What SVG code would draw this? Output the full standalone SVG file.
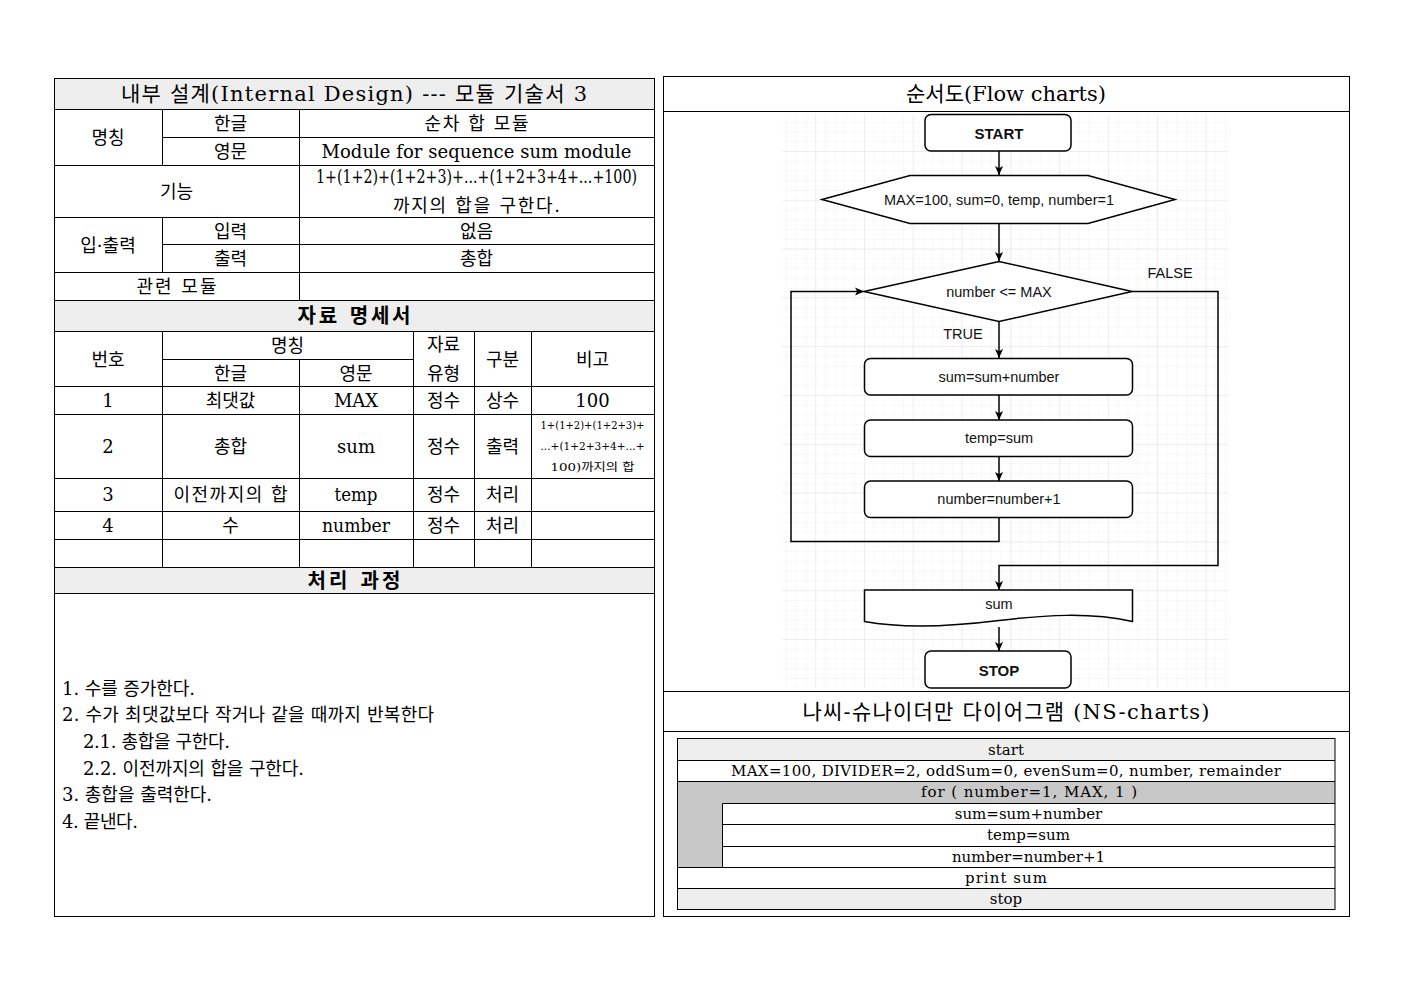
<svg xmlns="http://www.w3.org/2000/svg" width="1403" height="992" viewBox="0 0 1403 992">
<style>
.ln{stroke:#000;stroke-width:1;fill:none}
.t{font-family:"DejaVu Serif","Noto Sans CJK KR",serif;font-size:18px;fill:#000;text-anchor:middle;dominant-baseline:central}
.tl{font-family:"DejaVu Serif","Noto Sans CJK KR",serif;font-size:18px;fill:#000;text-anchor:start;dominant-baseline:central}
.h1{font-family:"DejaVu Serif","Noto Sans CJK KR",serif;font-size:21px;fill:#000;text-anchor:middle;dominant-baseline:central}
.h2{font-family:"DejaVu Serif","Noto Sans CJK KR",serif;font-size:20px;font-weight:bold;fill:#000;text-anchor:middle;dominant-baseline:central}
.sm{font-family:"DejaVu Serif","Noto Sans CJK KR",serif;font-size:11px;fill:#000;text-anchor:middle;dominant-baseline:central}
.ns{font-family:"DejaVu Serif","Noto Sans CJK KR",serif;font-size:15px;fill:#000;text-anchor:middle;dominant-baseline:central}
.fc{fill:#fff;stroke:#000;stroke-width:1.5}
.ft{font-family:"Liberation Sans",Arial,sans-serif;font-size:14.5px;fill:#111;text-anchor:middle;dominant-baseline:central}
.fb{font-family:"Liberation Sans",Arial,sans-serif;font-size:15px;font-weight:bold;fill:#111;text-anchor:middle;dominant-baseline:central}
.cn{stroke:#000;stroke-width:1.5;fill:none;marker-end:url(#arr)}
</style>
<defs>
<marker id="arr" viewBox="0 0 10 10" refX="10" refY="5" markerWidth="9" markerHeight="9" markerUnits="userSpaceOnUse" orient="auto">
<path d="M0,0.5 L10,5 L0,9.5 L2.5,5 Z" fill="#000"/>
</marker>
<pattern id="gminor" x="766.4" y="151" width="9.76" height="9.76" patternUnits="userSpaceOnUse">
<path d="M9.76,0 L0,0 L0,9.76" fill="none" stroke="#f2f2f2" stroke-width="1"/>
</pattern>
<pattern id="gmajor" x="766.4" y="151" width="48.8" height="48.8" patternUnits="userSpaceOnUse">
<path d="M48.8,0 L0,0 L0,48.8" fill="none" stroke="#e3e3e3" stroke-width="1"/>
</pattern>
</defs>
<rect width="1403" height="992" fill="#fff"/>

<!-- LEFT PANEL -->
<g id="left-panel">
<rect x="54.5" y="78.5" width="600" height="30.5" fill="#eeeeee"/>
<rect x="54.5" y="300.5" width="600" height="31" fill="#eeeeee"/>
<rect x="54.5" y="567.5" width="600" height="26" fill="#eeeeee"/>
<rect x="54.5" y="78.5" width="600" height="838" class="ln"/>
<path class="ln" d="M54.5,109.5H654.5 M162.5,137.5H654.5 M54.5,165.5H654.5 M54.5,217.5H654.5 M162.5,244.5H654.5 M54.5,272.5H654.5 M54.5,300.5H654.5 M54.5,331.5H654.5 M162.5,359.5H413.5 M54.5,386.5H654.5 M54.5,414.5H654.5 M54.5,478.5H654.5 M54.5,511.5H654.5 M54.5,539.5H654.5 M54.5,567.5H654.5 M54.5,593.5H654.5"/>
<path class="ln" d="M162.5,109.5V165.5 M162.5,217.5V272.5 M299.5,109.5V300.5 M162.5,331.5V567.5 M299.5,359.5V567.5 M413.5,331.5V567.5 M474.5,331.5V567.5 M531.5,331.5V567.5"/>
</g>
<g id="left-title"><text class="h1" x="354" y="94" textLength="466" lengthAdjust="spacing">내부 설계(Internal Design) --- 모듈 기술서 3</text></g>
<g id="module-info">
<text class="t" x="108" y="137">명칭</text>
<text class="t" x="230.5" y="123">한글</text>
<text class="t" x="230.5" y="151">영문</text>
<text class="t" x="476.5" y="123" textLength="104" lengthAdjust="spacing">순차 합 모듈</text>
<text class="t" x="476.5" y="151" textLength="310" lengthAdjust="spacing">Module for sequence sum module</text>
<text class="t" x="176.5" y="191">기능</text>
<text class="t" x="476.5" y="176" font-size="16" textLength="321" lengthAdjust="spacingAndGlyphs">1+(1+2)+(1+2+3)+...+(1+2+3+4+...+100)</text>
<text class="t" x="476.5" y="205" textLength="167" lengthAdjust="spacing">까지의 합을 구한다.</text>
<text class="t" x="108" y="245">입·출력</text>
<text class="t" x="230.5" y="231">입력</text>
<text class="t" x="230.5" y="258.5">출력</text>
<text class="t" x="476.5" y="231">없음</text>
<text class="t" x="476.5" y="258.5">총합</text>
<text class="t" x="176.5" y="286" textLength="80" lengthAdjust="spacing">관련 모듈</text>
</g>
<g id="data-spec">
<text class="h2" x="354" y="316" textLength="113" lengthAdjust="spacing">자료 명세서</text>
<text class="t" x="108" y="359">번호</text>
<text class="t" x="287.5" y="345">명칭</text>
<text class="t" x="230.5" y="373">한글</text>
<text class="t" x="356" y="373">영문</text>
<text class="t" x="443.5" y="344">자료</text>
<text class="t" x="443.5" y="373">유형</text>
<text class="t" x="502.5" y="359">구분</text>
<text class="t" x="592.5" y="359">비고</text>
<text class="t" x="108" y="400.5">1</text>
<text class="t" x="230.5" y="400.5">최댓값</text>
<text class="t" x="356" y="400.5">MAX</text>
<text class="t" x="443.5" y="400.5">정수</text>
<text class="t" x="502.5" y="400.5">상수</text>
<text class="t" x="592.5" y="400.5">100</text>
<text class="t" x="108" y="446">2</text>
<text class="t" x="230.5" y="446">총합</text>
<text class="t" x="356" y="446">sum</text>
<text class="t" x="443.5" y="446">정수</text>
<text class="t" x="502.5" y="446">출력</text>
<text class="sm" x="592.5" y="425" textLength="104" lengthAdjust="spacingAndGlyphs">1+(1+2)+(1+2+3)+</text>
<text class="sm" x="592.5" y="446" textLength="104" lengthAdjust="spacingAndGlyphs">...+(1+2+3+4+...+</text>
<text class="sm" x="592.5" y="467" textLength="84" lengthAdjust="spacingAndGlyphs">100)까지의 합</text>
<text class="t" x="108" y="494.5">3</text>
<text class="t" x="230.5" y="494.5" textLength="114" lengthAdjust="spacing">이전까지의 합</text>
<text class="t" x="356" y="494.5" textLength="43" lengthAdjust="spacingAndGlyphs">temp</text>
<text class="t" x="443.5" y="494.5">정수</text>
<text class="t" x="502.5" y="494.5">처리</text>
<text class="t" x="108" y="525">4</text>
<text class="t" x="230.5" y="525">수</text>
<text class="t" x="356" y="525" textLength="68" lengthAdjust="spacingAndGlyphs">number</text>
<text class="t" x="443.5" y="525">정수</text>
<text class="t" x="502.5" y="525">처리</text>
</g>
<g id="process">
<text class="h2" x="354" y="580.5" textLength="93" lengthAdjust="spacing">처리 과정</text>
<text class="tl" x="62" y="688" textLength="133" lengthAdjust="spacing">1. 수를 증가한다.</text>
<text class="tl" x="62" y="714" textLength="372" lengthAdjust="spacing">2. 수가 최댓값보다 작거나 같을 때까지 반복한다</text>
<text class="tl" x="83" y="741" textLength="147" lengthAdjust="spacing">2.1. 총합을 구한다.</text>
<text class="tl" x="83" y="768" textLength="221" lengthAdjust="spacing">2.2. 이전까지의 합을 구한다.</text>
<text class="tl" x="62" y="794" textLength="150" lengthAdjust="spacing">3. 총합을 출력한다.</text>
<text class="tl" x="62" y="821" textLength="76" lengthAdjust="spacing">4. 끝낸다.</text>
</g>

<!-- RIGHT PANEL -->
<g id="right-panel">
<rect x="663.5" y="76.5" width="686" height="840" class="ln"/>
<path class="ln" d="M663.5,111.5H1349.5 M663.5,691.5H1349.5 M663.5,731.5H1349.5"/>
<text class="h1" x="1006" y="94">순서도(Flow charts)</text>
<text class="h1" x="1006" y="712" textLength="407" lengthAdjust="spacing">나씨-슈나이더만 다이어그램 (NS-charts)</text>
<rect x="782" y="115" width="446" height="573" fill="url(#gminor)"/>
<rect x="782" y="115" width="446" height="573" fill="url(#gmajor)"/>
</g>

<g id="connectors">
<path class="cn" d="M999,151 V175"/>
<path class="cn" d="M999,224 V261"/>
<path class="cn" d="M999,322 V358"/>
<path class="cn" d="M999,395 V420"/>
<path class="cn" d="M999,457 V481"/>
<path class="cn" d="M999,517 V541.5 H791 V291.5 H864"/>
<path class="cn" d="M1132,291.5 H1218 V565.5 H999 V590"/>
<path class="cn" d="M999,627 V651"/>
<text class="ft" x="1170" y="273">FALSE</text>
<text class="ft" x="963" y="334">TRUE</text>
</g>

<g id="fc-start"><rect class="fc" x="925" y="114.5" width="146" height="36.5" rx="6"/><text class="fb" x="999" y="133">START</text></g>
<g id="fc-init"><polygon class="fc" points="822,199.5 910,175.5 1088,175.5 1175,199.5 1088,223.5 910,223.5"/><text class="ft" x="999" y="200">MAX=100, sum=0, temp, number=1</text></g>
<g id="fc-cond"><polygon class="fc" points="864,291.5 999,261.5 1132,291.5 999,321.5"/><text class="ft" x="999" y="291.5">number &lt;= MAX</text></g>
<g id="fc-sum"><rect class="fc" x="864.5" y="358.5" width="268" height="36.5" rx="6"/><text class="ft" x="999" y="377">sum=sum+number</text></g>
<g id="fc-temp"><rect class="fc" x="864.5" y="420" width="268" height="36.5" rx="6"/><text class="ft" x="999" y="438">temp=sum</text></g>
<g id="fc-inc"><rect class="fc" x="864.5" y="481" width="268" height="36.5" rx="6"/><text class="ft" x="999" y="499">number=number+1</text></g>
<g id="fc-out"><path class="fc" d="M864.5,590 H1132.5 V621.5 C1090,612 1045,615 999,620.5 C955,626 905,629 864.5,621.5 Z"/><text class="ft" x="999" y="604">sum</text></g>
<g id="fc-stop"><rect class="fc" x="925" y="651" width="146" height="37" rx="6"/><text class="fb" x="999" y="670">STOP</text></g>

<!-- NS CHART -->
<g id="ns-chart">
<rect x="677.5" y="738.5" width="657.5" height="21.5" fill="#eeeeee"/>
<rect x="677.5" y="781.5" width="657.5" height="86" fill="#c8c8c8"/>
<rect x="722.5" y="803.5" width="612.5" height="64" fill="#fff"/>
<rect x="677.5" y="888.5" width="657.5" height="21" fill="#eeeeee"/>
<rect x="677.5" y="738.5" width="657.5" height="171" class="ln"/>
<path class="ln" d="M677.5,760.5H1335 M677.5,781.5H1335 M722.5,803.5H1335 M722.5,824.5H1335 M722.5,846.5H1335 M677.5,867.5H1335 M677.5,888.5H1335 M722.5,803.5V867.5"/>
<text class="ns" x="1006" y="749.5">start</text>
<text class="ns" x="1006" y="770.5" textLength="550" lengthAdjust="spacing">MAX=100, DIVIDER=2, oddSum=0, evenSum=0, number, remainder</text>
<text class="ns" x="1029" y="792" textLength="216" lengthAdjust="spacing">for ( number=1, MAX, 1 )</text>
<text class="ns" x="1028.5" y="813.5">sum=sum+number</text>
<text class="ns" x="1028.5" y="835">temp=sum</text>
<text class="ns" x="1028.5" y="856.5">number=number+1</text>
<text class="ns" x="1006" y="878" textLength="82" lengthAdjust="spacing">print sum</text>
<text class="ns" x="1006" y="899">stop</text>
</g>
</svg>
